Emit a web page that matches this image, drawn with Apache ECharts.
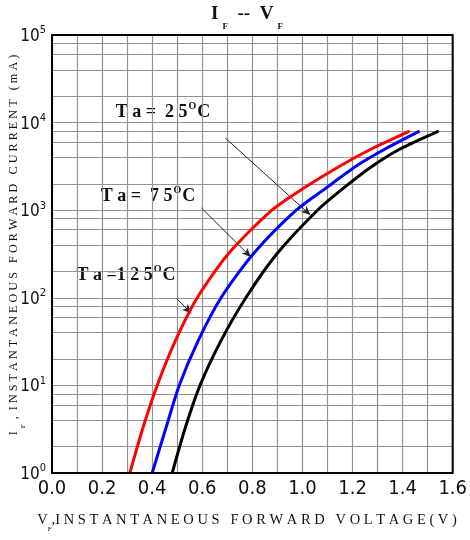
<!DOCTYPE html>
<html>
<head>
<meta charset="utf-8">
<script src="https://cdn.jsdelivr.net/npm/echarts@6/dist/echarts.min.js"></script>
<style>
html,body{margin:0;padding:0;background:#fff;}
#c{width:470px;height:540px;}
</style>
</head>
<body>
<div id="c"></div>
<script>
// ---- data: forward voltage (V) read at each forward current level (mA) ----
var iLevels = [1, 3.2, 10, 32, 100, 320, 1000, 1800, 3200, 5000, 8000];
var vRed    = [0.311, 0.362, 0.420, 0.492, 0.580, 0.705, 0.878, 1.007, 1.150, 1.275, 1.428]; // Ta=125°C
var vBlue   = [0.400, 0.454, 0.508, 0.583, 0.675, 0.805, 0.975, 1.095, 1.215, 1.330, 1.468]; // Ta=75°C
var vBlack  = [0.480, 0.531, 0.591, 0.674, 0.774, 0.899, 1.060, 1.165, 1.280, 1.390, 1.544]; // Ta=25°C
var xTicks = [0, 0.2, 0.4, 0.6, 0.8, 1.0, 1.2, 1.4, 1.6];
var yDecades = [1, 10, 100, 1000, 10000, 100000];
var minorMantissa = [2, 4, 6, 8];
// annotation arrows: [fromV, fromI, toV, toI]
var arrows = [
  [0.692, 6670, 1.032, 881],
  [0.597, 1059, 0.794, 292],
  [0.497, 98.7, 0.556, 66.5]
];

function pairs(v, i) { return v.map(function (x, k) { return [x, i[k]]; }); }

var minorLines = [];
yDecades.slice(0, -1).forEach(function (d) {
  minorMantissa.forEach(function (m) { minorLines.push({ yAxis: m * d }); });
});

var chart = echarts.init(document.getElementById('c'), null, { renderer: 'canvas' });
var serif = "'Liberation Serif','Times New Roman',serif";
var narrow = "'Liberation Sans Narrow','Arial Narrow','DejaVu Sans Condensed',sans-serif";
var gridColor = '#939393';

function tempLabel(cx, cy, t, bw) {
  return {
    type: 'group',
    z: 100,
    children: [
      { type: 'rect', shape: { x: cx - bw / 2, y: cy - 13, width: bw, height: 27 }, style: { fill: '#fff' } },
      {
        type: 'text', x: cx, y: cy,
        style: {
          text: '{m|' + t + '}{s|O}{m|C}',
          align: 'center', verticalAlign: 'middle',
          rich: {
            m: { fontFamily: serif, fontWeight: 'bold', fontSize: 18, lineHeight: 20, fill: '#111', verticalAlign: 'bottom' },
            s: { fontFamily: serif, fontWeight: 'bold', fontSize: 10, lineHeight: 20, fill: '#111', verticalAlign: 'top', padding: [0, 1, 0, 1] }
          }
        }
      }
    ]
  };
}

var curveStyle = { smooth: 0.25, showSymbol: false, symbol: 'none' };

var option = {
  animation: false,
  backgroundColor: '#fff',
  grid: { left: 52, right: 13, top: 35, bottom: 67, show: true, borderColor: '#000', borderWidth: 2, backgroundColor: 'transparent', z: 10 },
  xAxis: {
    type: 'value', min: xTicks[0], max: xTicks[xTicks.length - 1], interval: 0.2,
    axisLine: { show: false }, axisTick: { show: false },
    axisLabel: {
      margin: 6, fontFamily: narrow, fontSize: 20, color: '#111',
      formatter: function (v) { return v.toFixed(1); }
    },
    splitLine: { show: true, lineStyle: { color: gridColor, width: 1.2 } },
    minorTick: { show: false, splitNumber: 2 },
    minorSplitLine: { show: true, lineStyle: { color: gridColor, width: 1.2 } }
  },
  yAxis: {
    type: 'log', logBase: 10, min: yDecades[0], max: yDecades[yDecades.length - 1],
    axisLine: { show: false }, axisTick: { show: false },
    axisLabel: {
      margin: 6, fontFamily: narrow, color: '#111',
      formatter: function (v) { return '{b|10}{s|' + Math.round(Math.log10(v)) + '}'; },
      rich: {
        b: { fontFamily: narrow, fontSize: 17, lineHeight: 20, verticalAlign: 'bottom', color: '#111' },
        s: { fontFamily: narrow, fontSize: 11, lineHeight: 20, verticalAlign: 'top', color: '#111' }
      }
    },
    splitLine: { show: true, lineStyle: { color: gridColor, width: 1.2 } }
  },
  series: [
    {
      type: 'line', data: [], silent: true, z: 1,
      markLine: {
        silent: true, symbol: ['none', 'none'], animation: false,
        label: { show: false },
        lineStyle: { color: gridColor, width: 1.2, type: 'solid' },
        emphasis: { disabled: true },
        data: minorLines
      }
    },
    Object.assign({ name: 'Ta=125°C', type: 'line', data: pairs(vRed, iLevels), lineStyle: { color: '#ff0000', width: 3 }, z: 5 }, curveStyle),
    Object.assign({ name: 'Ta=75°C', type: 'line', data: pairs(vBlue, iLevels), lineStyle: { color: '#0000ff', width: 3 }, z: 5 }, curveStyle),
    Object.assign({
      name: 'Ta=25°C', type: 'line', data: pairs(vBlack, iLevels), lineStyle: { color: '#000', width: 3 }, z: 6,
      markLine: {
        silent: true, symbol: ['none', 'arrow'], symbolSize: [6, 9], animation: false,
        label: { show: false },
        lineStyle: { color: '#222', width: 1, type: 'solid' },
        emphasis: { disabled: true },
        data: arrows.map(function (a) { return [{ coord: [a[0], a[1]] }, { coord: [a[2], a[3]] }]; })
      }
    }, curveStyle)
  ],
  graphic: [
    {
      type: 'text', x: 247, y: 18, z: 100,
      style: {
        text: '{m|I}{sub|F}{m|  --  V}{sub|F}',
        align: 'center', verticalAlign: 'middle',
        rich: {
          m: { fontFamily: serif, fontWeight: 'bold', fontSize: 19, lineHeight: 22, fill: '#111', verticalAlign: 'top' },
          sub: { fontFamily: serif, fontWeight: 'bold', fontSize: 9, lineHeight: 26, fill: '#111', verticalAlign: 'bottom', padding: [0, 0, 0, 4] }
        }
      }
    },
    {
      type: 'text', x: 247, y: 523, z: 100,
      style: {
        text: '{m|V}{sub|F}{m|,I N S T A N T A N E O U S   F O R W A R D   V O L T A G E ( V )}',
        align: 'center', verticalAlign: 'middle',
        rich: {
          m: { fontFamily: serif, fontSize: 14.5, lineHeight: 18, fill: '#111', verticalAlign: 'top' },
          sub: { fontFamily: serif, fontSize: 7, lineHeight: 20, fill: '#111', verticalAlign: 'bottom' }
        }
      }
    },
    {
      type: 'text', x: 17, y: 245, rotation: Math.PI / 2, z: 100,
      style: {
        text: '{m|I}{sub|F}{m| ,  I N S T A N T A N E O U S   F O R W A R D   C U R R E N T   ( m A )}',
        align: 'center', verticalAlign: 'middle',
        rich: {
          m: { fontFamily: serif, fontSize: 12.2, lineHeight: 16, fill: '#111', verticalAlign: 'top' },
          sub: { fontFamily: serif, fontSize: 7, lineHeight: 19, fill: '#111', verticalAlign: 'bottom', padding: [0, 2, 0, 3] }
        }
      }
    },
    tempLabel(163, 111, 'T a =  2 5', 110),
    tempLabel(148, 195, 'T a =  7 5', 111),
    tempLabel(126, 274, 'T a =1 2 5', 122)
  ]
};
chart.setOption(option);
</script>
</body>
</html>
